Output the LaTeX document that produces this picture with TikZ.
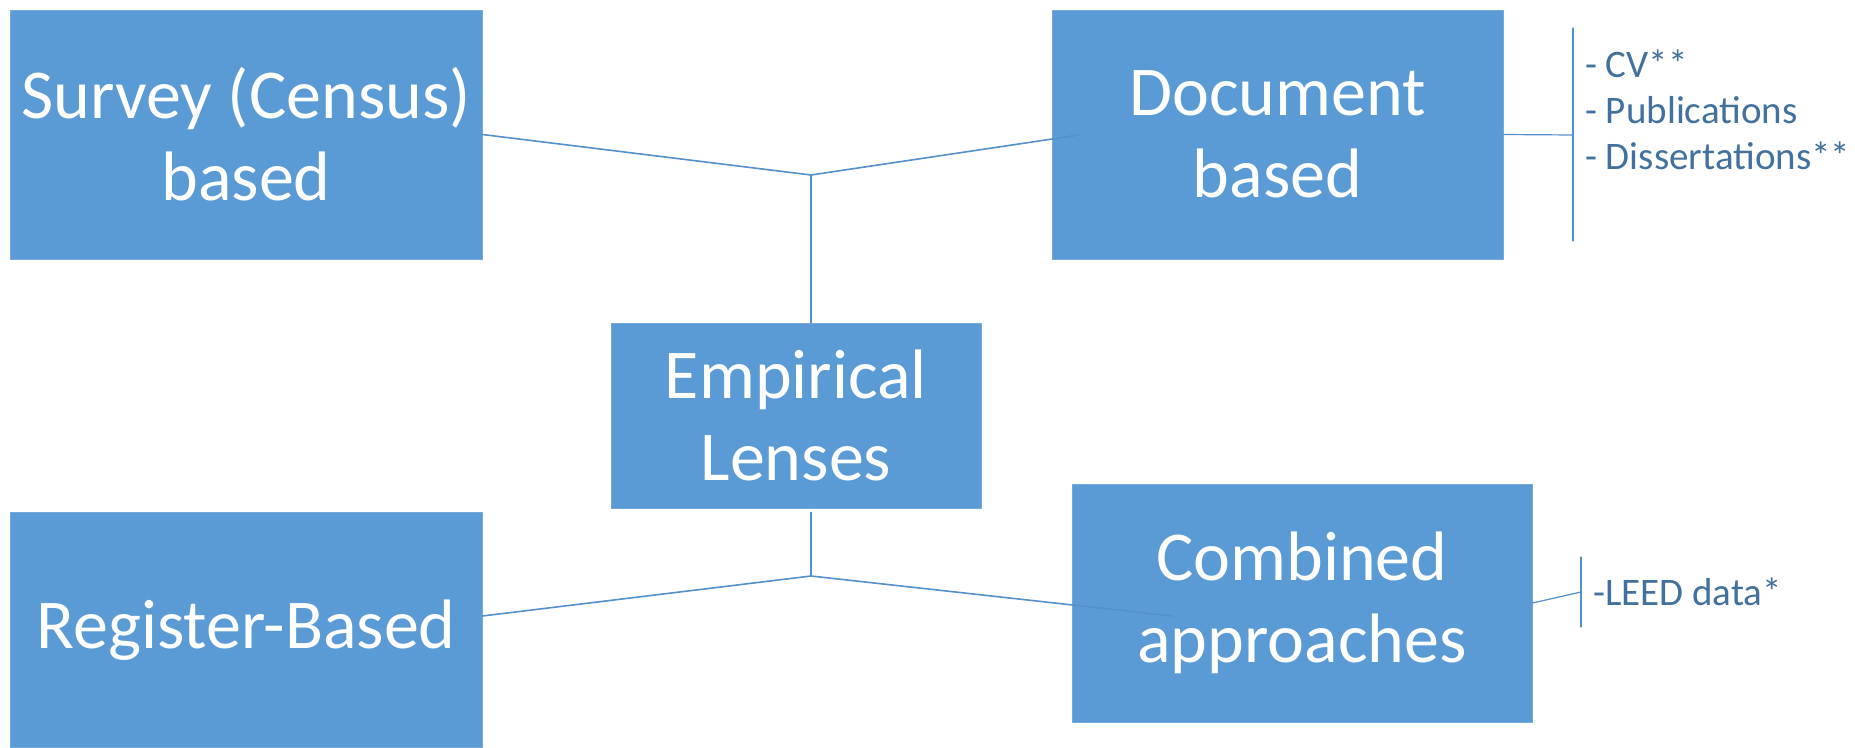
\documentclass[tikz,border=0pt]{standalone}
\usepackage{fontspec}
\setmainfont{Carlito}
\usetikzlibrary{positioning}
\definecolor{boxblue}{HTML}{5B9BD5}
\definecolor{linkblue}{HTML}{5490CB}
\definecolor{noteblue}{HTML}{41719C}

\begin{document}
\begin{tikzpicture}[x=1pt, y=-1pt, line cap=round, line join=round,
    box/.style={fill=boxblue, draw=boxblue!85!white, line width=0.8pt, text=white, align=center, inner sep=0pt, font=\fontsize{70}{82}\selectfont},
    link/.style={draw=linkblue, line width=1.6pt},
    note/.style={text=noteblue, align=left, anchor=west, inner sep=0pt, font=\fontsize{39}{46}\selectfont}]
    \useasboundingbox (0,0) rectangle (1855,747);

    % the five boxes
    \node[box, minimum width=472pt, minimum height=249pt] (survey) at (246,134.5) {Survey (Census)\\based};
    \node[box, minimum width=451pt, minimum height=249pt] (document) at (1277.5,134.5) {Document\\based};
    \node[box, minimum width=370pt, minimum height=185pt] (lenses) at (796,415.5) {Empirical\\Lenses};
    \node[box, minimum width=460pt, minimum height=238pt] (combined) at (1302,603) {Combined\\approaches};
    \node[box, minimum width=472pt, minimum height=235pt] (register) at (246,630) {Register-Based};

    % joints of the connectors
    \coordinate (topjoin) at (811,175);
    \coordinate (botjoin) at (811,576);
    \coordinate (docend) at (1079,135);
    \coordinate (combend) at (1172,616);

    \draw[link] (survey.east) -- (topjoin) -- (docend);
    \draw[link] (topjoin) -- (topjoin |- lenses.north);
    \draw[link] ([yshift=-4pt]lenses.south -| botjoin) -- (botjoin);
    \draw[link] ([yshift=14pt]register.east) -- (botjoin) -- (combend);

    % side notes
    \coordinate (docbar) at (1573,135);
    \draw[link, line width=1.2pt] (document.east) -- (docbar);
    \draw[link, line width=1.2pt] ([yshift=107pt]docbar) -- ([yshift=-106pt]docbar);
    \node[note] (sources) at (1585,110) {- CV**\\- Publications\\- Dissertations**};

    \coordinate (leedbar) at (1581,592);
    \draw[link, line width=1.2pt] (combined.east) -- (leedbar);
    \draw[link, line width=1.2pt] ([yshift=35pt]leedbar) -- ([yshift=-35pt]leedbar);
    \node[note] (leed) at (1593,592) {-LEED data*};
\end{tikzpicture}
\end{document}
